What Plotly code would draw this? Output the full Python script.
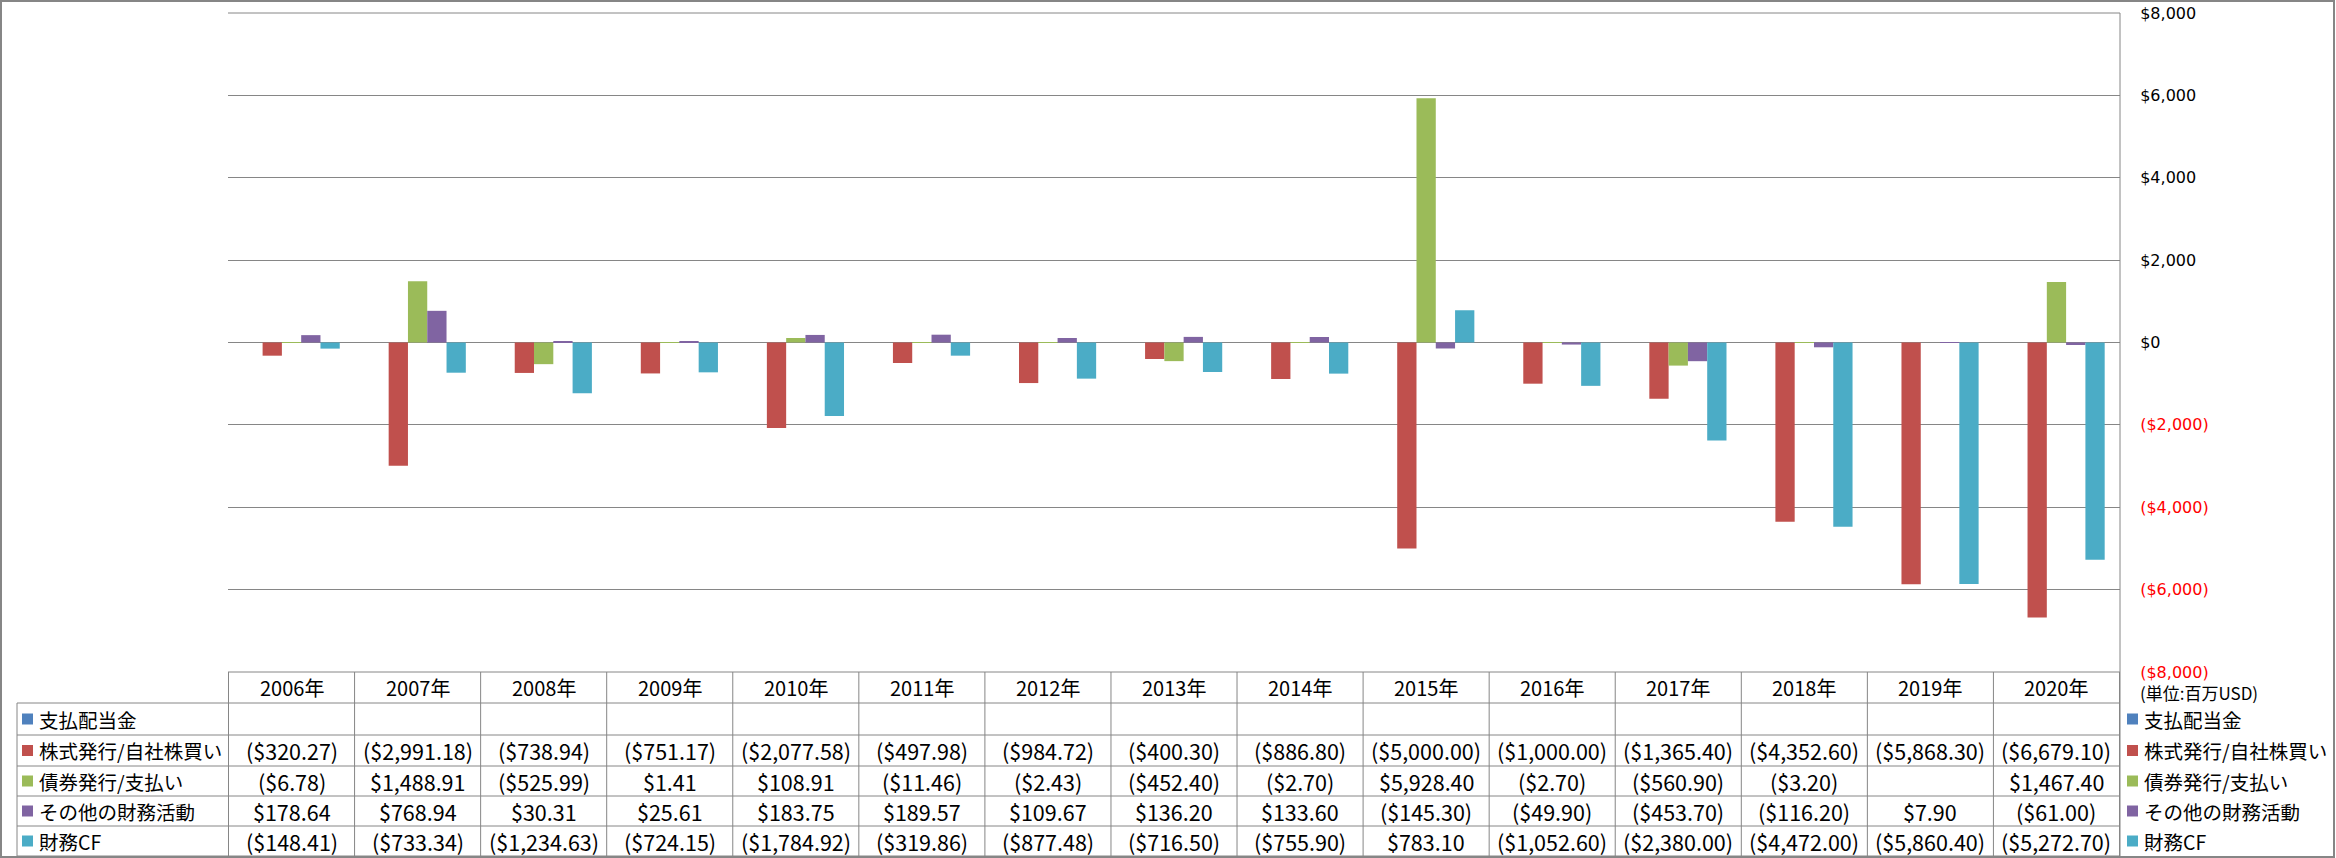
import plotly.graph_objects as go

# ---------------- data ----------------
years = ["2006年", "2007年", "2008年", "2009年", "2010年", "2011年", "2012年", "2013年",
         "2014年", "2015年", "2016年", "2017年", "2018年", "2019年", "2020年"]

series_names = ["支払配当金", "株式発行/自社株買い", "債券発行/支払い", "その他の財務活動", "財務CF"]

dividends = [None] * 15
stock = [-320.27, -2991.18, -738.94, -751.17, -2077.58, -497.98, -984.72, -400.30,
         -886.80, -5000.00, -1000.00, -1365.40, -4352.60, -5868.30, -6679.10]
debt = [-6.78, 1488.91, -525.99, 1.41, 108.91, -11.46, -2.43, -452.40,
        -2.70, 5928.40, -2.70, -560.90, -3.20, None, 1467.40]
other = [178.64, 768.94, 30.31, 25.61, 183.75, 189.57, 109.67, 136.20,
         133.60, -145.30, -49.90, -453.70, -116.20, 7.90, -61.00]
fin_cf = [-148.41, -733.34, -1234.63, -724.15, -1784.92, -319.86, -877.48, -716.50,
          -755.90, 783.10, -1052.60, -2380.00, -4472.00, -5860.40, -5272.70]

tick_values = [-8000, -6000, -4000, -2000, 0, 2000, 4000, 6000, 8000]
unit_label = "(単位:百万USD)"

series_values = [dividends, stock, debt, other, fin_cf]
colors = ["#4F81BD", "#C0504D", "#9BBB59", "#8064A2", "#4BACC6"]

# ---------------- layout constants (pixels) ----------------
W, H = 2336, 858
L, R = 228, 2120          # plot left / right
T, B = 13, 672            # plot top / bottom
PW, PH = R - L, B - T
GRID = "#868686"

def xp(px):
    return (px - L) / PW

def yp(py):
    return (B - py) / PH

def money(v):
    if v is None:
        return ""
    s = "${:,.2f}".format(abs(v))
    return "(" + s + ")" if v < 0 else s

def tick_text(v):
    s = "${:,.0f}".format(abs(v))
    if v < 0:
        return '<span style="color:#FF0000">(' + s + ')</span>'
    return s

NUM_FONT = "Liberation Sans Narrow, Arial Narrow, Noto Sans CJK JP, sans-serif"
CJK_FONT = "Noto Sans CJK JP, sans-serif"

fig = go.Figure()
for name, vals, col in zip(series_names, series_values, colors):
    fig.add_trace(go.Bar(x=years, y=vals, name=name, marker=dict(color=col, line=dict(width=0)),
                         showlegend=False))

# table geometry
row_lines = [672, 703, 735, 766, 796, 826, 856]
header_center = (row_lines[0] + row_lines[1]) / 2
row_centers = [(row_lines[i] + row_lines[i + 1]) / 2 for i in range(1, 6)]

shapes = []
annotations = []

# top gridline (edge of plot area)
shapes.append(dict(type="line", xref="paper", yref="paper", x0=0, x1=1, y0=1, y1=1,
                   line=dict(color=GRID, width=1)))
# horizontal table lines
shapes.append(dict(type="line", xref="paper", yref="paper", x0=0, x1=1,
                   y0=yp(row_lines[0]), y1=yp(row_lines[0]), line=dict(color=GRID, width=1)))
for py in row_lines[1:]:
    shapes.append(dict(type="line", xref="paper", yref="paper", x0=xp(17), x1=1,
                       y0=yp(py), y1=yp(py), line=dict(color=GRID, width=1)))
# vertical table lines at category boundaries
n = len(years)
for i in range(n + 1):
    shapes.append(dict(type="line", xref="x", yref="paper", x0=i - 0.5, x1=i - 0.5,
                       y0=yp(row_lines[0]), y1=yp(row_lines[-1]), line=dict(color=GRID, width=1)))
# row label column left border
shapes.append(dict(type="line", xref="paper", yref="paper", x0=xp(17), x1=xp(17),
                   y0=yp(row_lines[1]), y1=yp(row_lines[-1]), line=dict(color=GRID, width=1)))
# right axis line running from plot top to bottom of chart
shapes.append(dict(type="line", xref="paper", yref="paper", x0=1, x1=1,
                   y0=1, y1=yp(857), line=dict(color=GRID, width=1)))
# outer chart border
shapes.append(dict(type="rect", xref="paper", yref="paper", x0=xp(1), x1=xp(2334),
                   y0=yp(1), y1=yp(857), line=dict(color=GRID, width=2)))

# header labels
for yr in years:
    annotations.append(dict(x=yr, xref="x", y=yp(header_center), yref="paper", text=yr,
                            showarrow=False, xanchor="center", yanchor="middle",
                            font=dict(family=NUM_FONT, size=20, color="#000000")))
# cell values
for r, vals in enumerate(series_values):
    for yr, v in zip(years, vals):
        txt = money(v)
        if not txt:
            continue
        annotations.append(dict(x=yr, xref="x", y=yp(row_centers[r]), yref="paper", text=txt,
                                showarrow=False, xanchor="center", yanchor="middle",
                                font=dict(family=NUM_FONT, size=21.5, color="#000000")))
# row labels (left) and legend (right)
for r, (name, col) in enumerate(zip(series_names, colors)):
    cy = row_centers[r]
    for kx, tx in ((22, 37), (2127, 2142)):
        shapes.append(dict(type="rect", xref="paper", yref="paper", x0=xp(kx), x1=xp(kx + 11),
                           y0=yp(cy - 5.5), y1=yp(cy + 5.5), fillcolor=col, line=dict(width=0)))
        annotations.append(dict(x=xp(tx), xref="paper", y=yp(cy), yref="paper", text=name,
                                showarrow=False, xanchor="left", yanchor="middle",
                                font=dict(family=NUM_FONT, size=19.5, color="#000000")))
# unit label
annotations.append(dict(x=xp(2138), xref="paper", y=yp(692), yref="paper", text=unit_label,
                        showarrow=False, xanchor="left", yanchor="middle",
                        font=dict(family=CJK_FONT, size=17, color="#000000")))

fig.update_layout(
    template="none",
    width=W, height=H,
    margin=dict(l=L, r=W - R, t=T, b=H - B, pad=0, autoexpand=False),
    paper_bgcolor="white", plot_bgcolor="white",
    barmode="group", bargap=0.235, bargroupgap=0,
    font=dict(family=CJK_FONT, color="#000000"),
    showlegend=False,
    xaxis=dict(type="category", showticklabels=False, showgrid=False, showline=False,
               zeroline=False, ticks="", fixedrange=True, automargin=False),
    yaxis=dict(side="right", range=[-8000, 8000], tickvals=tick_values,
               ticktext=[tick_text(v) for v in tick_values],
               showgrid=True, gridcolor=GRID, gridwidth=1,
               zeroline=True, zerolinecolor=GRID, zerolinewidth=1,
               showline=False, ticks="outside", ticklen=16, tickcolor="rgba(0,0,0,0)",
               tickfont=dict(family="DejaVu Sans, Verdana, sans-serif", size=16, color="#000000"),
               fixedrange=True, automargin=False),
    shapes=shapes, annotations=annotations,
)

fig.write_html("out.html")
